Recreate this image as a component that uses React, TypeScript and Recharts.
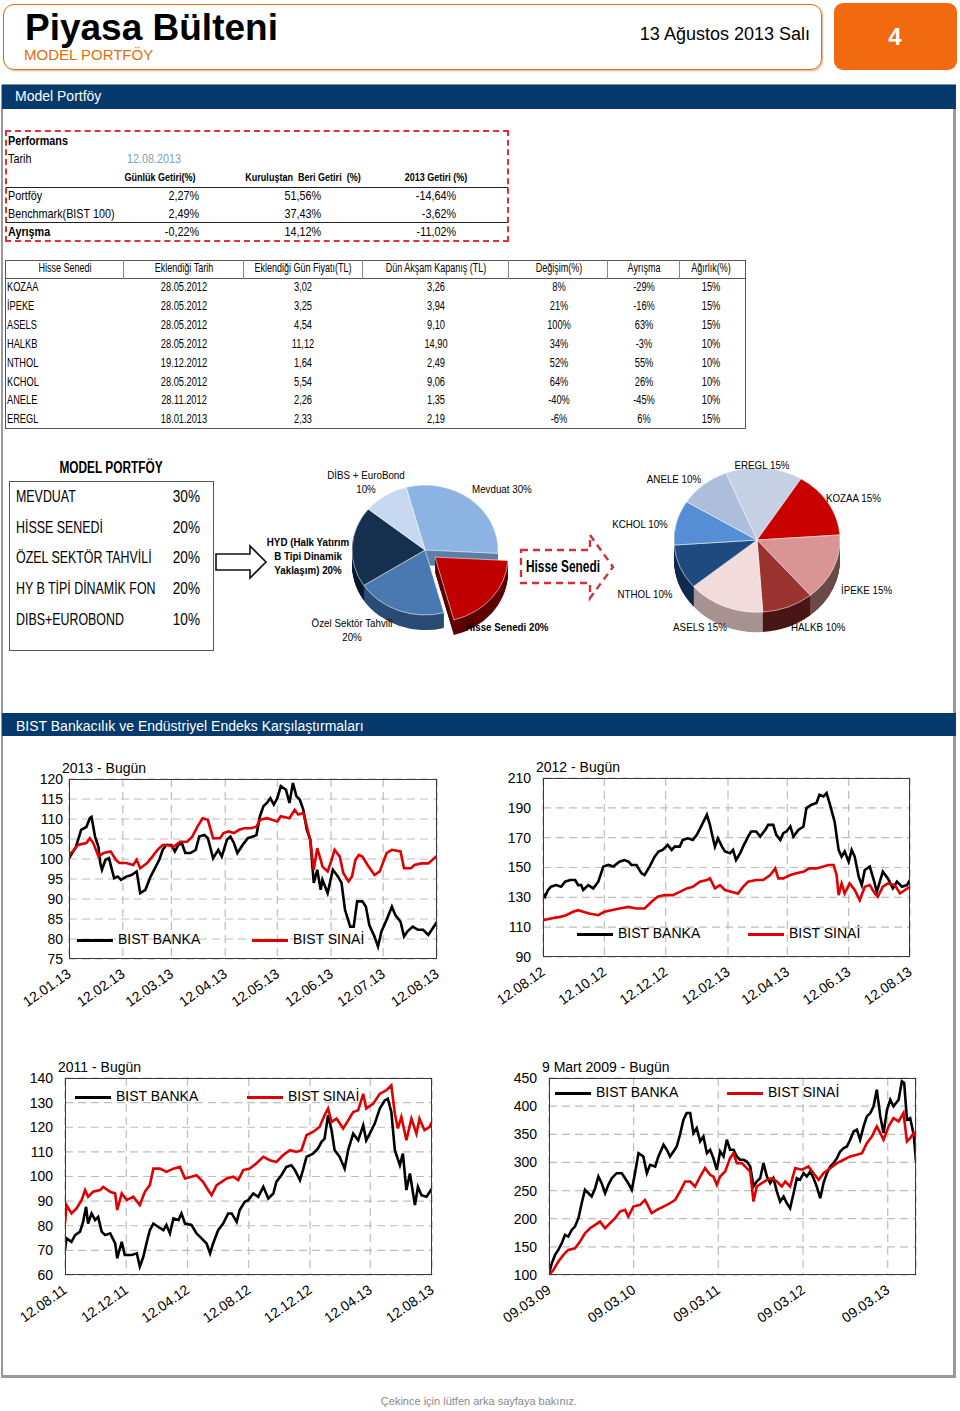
import React from 'react';
import { LineChart, Line, XAxis, YAxis, CartesianGrid, PieChart, Pie, Cell } from 'recharts';

const SANS = '"Liberation Sans", Arial, sans-serif';
const NARROW = '"Liberation Sans Narrow", "Liberation Sans", Arial, sans-serif';
const NAVY = '#063A6C';
const ORANGE = '#E46C0A';

// ---------- Performance table ----------
const perfCols = ['Günlük Getiri(%)', 'Kuruluştan  Beri Getiri  (%)', '2013 Getiri (%)'];
const perfRows = ['Portföy', 'Benchmark(BIST 100)', 'Ayrışma'];
const perfDaily = ['2,27%', '2,49%', '-0,22%'];
const perfSince = ['51,56%', '37,43%', '14,12%'];
const perfYear = ['-14,64%', '-3,62%', '-11,02%'];

// ---------- Holdings table ----------
const holdHeaders = ['Hisse Senedi', 'Eklendiği Tarih', 'Eklendiği Gün Fiyatı(TL)', 'Dün Akşam Kapanış (TL)', 'Değişim(%)', 'Ayrışma', 'Ağırlık(%)'];
const holdNames = ['KOZAA', 'İPEKE', 'ASELS', 'HALKB', 'NTHOL', 'KCHOL', 'ANELE', 'EREGL'];
const holdDates = ['28.05.2012', '28.05.2012', '28.05.2012', '28.05.2012', '19.12.2012', '28.05.2012', '28.11.2012', '18.01.2013'];
const holdEntry = ['3,02', '3,25', '4,54', '11,12', '1,64', '5,54', '2,26', '2,33'];
const holdClose = ['3,26', '3,94', '9,10', '14,90', '2,49', '9,06', '1,35', '2,19'];
const holdChange = ['8%', '21%', '100%', '34%', '52%', '64%', '-40%', '-6%'];
const holdDiverg = ['-29%', '-16%', '63%', '-3%', '55%', '26%', '-45%', '6%'];
const holdWeight = ['15%', '15%', '15%', '10%', '10%', '10%', '10%', '15%'];

// ---------- Model portfolio ----------
const modelNames = ['MEVDUAT', 'HİSSE SENEDİ', 'ÖZEL SEKTÖR TAHVİLİ', 'HY B TİPİ DİNAMİK FON', 'DIBS+EUROBOND'];
const modelPct = ['30%', '20%', '20%', '20%', '10%'];

const assetNames = ['Mevduat', 'Hisse Senedi', 'Özel Sektör Tahvili', 'HYD', 'DİBS + EuroBond'];
const assetValues = [30, 20, 20, 20, 10];
const assetColors = ['#8DB3E2', '#C00000', '#4A78B0', '#15304F', '#C6D9F1'];
const assetSides = ['#5B7FA8', '#5E0000', '#2A4B74', '#0A1A2E', '#8FA3BC'];

const stockNames = ['EREGL', 'KOZAA', 'İPEKE', 'HALKB', 'ASELS', 'NTHOL', 'KCHOL', 'ANELE'];
const stockValues = [15, 15, 15, 10, 15, 10, 10, 10];
const stockColors = ['#C6D0E4', '#C80000', '#D99594', '#9A3330', '#F2DCDB', '#1F4A80', '#558ED5', '#AEBDDB'];
const stockSides = ['#8B96AA', '#6E0000', '#6B4B4B', '#4A1616', '#A89292', '#0F2A4C', '#2C5288', '#6E7E9C'];

// ---------- Index charts ----------
type Pt = [number, number];

const ticks13 = [0, 31, 59, 90, 120, 151, 181, 212];
const labels13 = ['12.01.13', '12.02.13', '12.03.13', '12.04.13', '12.05.13', '12.06.13', '12.07.13', '12.08.13'];
const banka13: Pt[] = [[0,100.2],[4,103],[7,107.3],[10,108],[12,110.2],[13,110.5],[15,105.6],[17,103],[18,99],[19,97.3],[21,99.8],[23,100.2],[26,95.2],[28,95.6],[30,94.8],[33,95.6],[36,96],[39,96.9],[41,91.5],[44,92.3],[47,95.6],[50,98.1],[52,99.8],[54,102.3],[56,103.5],[59,103.5],[61,101.9],[63,103.5],[65,104],[67,101.5],[70,101.5],[73,102.3],[75,105.6],[78,106],[80,105.2],[83,100.2],[86,102.3],[88,100.6],[91,104.8],[93,105.6],[95,104],[97,101.5],[100,103.5],[103,105.2],[106,105.6],[108,106],[110,110.7],[112,113.2],[114,114],[116,115.2],[118,113.6],[120,115.2],[122,118.2],[125,117.3],[127,114],[129,119],[131,115.7],[133,114.8],[135,112.3],[137,107.3],[139,104.8],[141,94],[143,97.3],[145,92.3],[146,94.8],[149,91.5],[152,97.3],[155,95.6],[157,94],[159,87.3],[162,83.1],[164,83.1],[166,89.4],[169,89.4],[171,88.1],[173,83.5],[176,80.6],[178,78.1],[180,81.9],[183,84.8],[186,88.1],[188,86],[191,84.3],[193,80.6],[195,81.9],[198,83.1],[201,82.3],[204,82.3],[207,81],[212,84.3]];
const sinai13: Pt[] = [[0,101],[3,102.3],[5,103.5],[10,104],[12,105.2],[14,104],[17,100.6],[20,101.5],[24,101.9],[27,99.8],[29,99],[33,99],[37,98.5],[39,99.8],[41,97.7],[45,99],[48,100.6],[51,102.3],[54,103.5],[57,103.5],[60,103],[64,104.3],[68,104.3],[71,105.6],[74,108.1],[77,110.2],[80,109.8],[83,105.2],[87,105.2],[89,106.5],[92,106.9],[95,106.5],[98,107.3],[101,107.7],[105,107.7],[108,108.1],[110,109.8],[114,110.2],[117,109.8],[120,109.4],[122,110.7],[127,110.2],[130,112.3],[132,111.1],[135,111.5],[137,108.1],[139,104.8],[141,97.3],[143,102.7],[145,99.8],[146,98.1],[149,96.9],[151,99.4],[153,102.3],[156,100.6],[158,96.5],[161,94.4],[163,95.6],[165,99.8],[167,101],[169,100.6],[172,98.5],[176,96],[179,96.9],[183,101.5],[186,102.3],[191,101.9],[193,97.7],[197,97.7],[199,98.5],[203,98.9],[207,98.9],[212,100.8]];

const ticks12 = [0, 61, 122, 184, 243, 304, 365];
const labels12 = ['12.08.12', '12.10.12', '12.12.12', '12.02.13', '12.04.13', '12.06.13', '12.08.13'];
const banka12: Pt[] = [[0,132.6],[2,130.4],[5,134.9],[8,137.1],[13,138.2],[18,137.1],[22,140.5],[27,141.6],[32,141.6],[35,138.2],[38,138.2],[40,134.9],[45,138.2],[50,136],[55,140.5],[60,150.6],[65,151.7],[70,150.6],[76,153.9],[81,155],[85,153.9],[88,151.7],[93,151.7],[98,146.1],[101,145],[106,150.6],[111,157.3],[115,160.7],[119,161.8],[124,165.1],[128,161.8],[131,164],[136,164],[139,168.5],[144,169.6],[149,168.5],[153,171.9],[158,178.6],[163,185.3],[166,178.6],[169,169.6],[171,164],[174,169.6],[178,164],[181,160.7],[186,159.5],[189,161.8],[192,155],[196,159.5],[199,164],[204,170.7],[207,174.1],[212,174.1],[216,170.7],[221,175.2],[224,178.6],[229,178.6],[232,171.9],[236,168.5],[239,173],[242,174.1],[246,177.5],[249,170.7],[254,175.2],[259,177.5],[262,189.8],[267,192.1],[272,193.2],[275,198.8],[279,197.7],[282,199.9],[285,193.2],[290,180.8],[294,161.8],[297,157.3],[300,160.7],[304,153.9],[307,161.8],[310,157.3],[314,143.8],[317,138.2],[320,148.3],[325,150.6],[329,141.6],[332,133.7],[335,140.5],[338,147.2],[343,142.7],[348,136],[352,140.5],[357,137.1],[362,138.2],[365,141.6]];
const sinai12: Pt[] = [[0,114.7],[8,115.8],[17,116.9],[23,118],[30,120.3],[35,121.4],[40,120.3],[46,119.2],[55,118],[61,120.3],[68,121.4],[76,122.5],[85,123.6],[93,122.5],[101,122.5],[108,127],[114,130.4],[121,131.5],[129,131.5],[136,133.7],[143,136],[149,137.1],[156,140.5],[163,141.6],[166,142.7],[171,136],[176,138.2],[181,134.9],[187,133.7],[194,132.6],[199,137.1],[204,140.5],[212,141.6],[219,141.6],[226,145],[231,149.4],[234,142.7],[239,142.7],[246,145],[252,146.1],[259,147.2],[265,149.4],[272,149.4],[279,150.6],[284,151.7],[289,151.7],[292,145],[294,131.5],[297,139.3],[300,132.6],[305,139.3],[310,134.9],[315,128.1],[320,137.1],[325,138.2],[330,132.6],[333,130.4],[338,137.1],[343,139.3],[350,138.2],[355,132.6],[360,134.9],[365,137.1]];

const ticks11 = [0, 122, 244, 366, 488, 608, 731];
const labels11 = ['12.08.11', '12.12.11', '12.04.12', '12.08.12', '12.12.12', '12.04.13', '12.08.13'];
const banka11: Pt[] = [[0,70.1],[3,74.9],[13,73.5],[20,76.2],[30,77.6],[36,81.6],[42,87.7],[46,80.9],[53,85],[60,82.3],[66,83.6],[73,77.6],[80,76.2],[90,76.9],[100,72.8],[104,66.8],[113,73.5],[119,68.1],[133,68.1],[143,68.8],[149,63.4],[156,67.4],[163,73.5],[169,78.2],[176,80.9],[186,79.5],[196,78.2],[202,80.3],[209,76.9],[216,83],[226,82.3],[232,85],[239,80.9],[252,80.3],[262,76.9],[272,74.9],[282,72.8],[289,68.8],[295,72.8],[305,78.2],[315,80.9],[325,85],[332,85],[342,81.6],[348,86.4],[358,89.7],[365,90.4],[375,93.1],[385,91.7],[395,95.8],[405,91.1],[415,93.1],[421,97.8],[431,100.5],[441,103.9],[451,104.6],[458,102.6],[468,98.5],[474,102.6],[481,108],[494,109.3],[504,111.4],[511,114.1],[517,115.4],[524,124.9],[531,118.8],[537,110.7],[547,108],[557,103.2],[564,110.7],[574,117.4],[584,114.7],[594,120.8],[600,114.7],[607,117.4],[617,121.5],[627,127.6],[637,130.9],[643,131.6],[650,126.2],[657,110.7],[667,104.6],[673,109.3],[680,94.5],[687,101.2],[697,88.4],[703,95.8],[710,92.4],[720,91.8],[731,95.1]];
const sinai11: Pt[] = [[0,80.9],[3,88.4],[13,85],[23,87],[33,90.4],[40,94.5],[46,91.8],[56,93.8],[70,94.5],[76,95.8],[90,93.8],[100,93.1],[104,86.4],[113,93.1],[123,90.4],[136,91.8],[149,88.4],[159,93.8],[169,96.5],[176,103.2],[189,103.2],[202,101.9],[216,103.2],[229,103.9],[239,99.2],[252,99.9],[262,100.5],[275,97.8],[285,94.5],[292,92.4],[302,96.5],[312,97.8],[322,99.2],[335,99.9],[345,98.5],[355,102.6],[368,103.2],[381,105.3],[395,108],[408,106.6],[421,105.9],[434,108.6],[448,110.7],[461,110],[471,110.7],[481,116.8],[494,118.1],[507,120.1],[517,124.9],[524,127.6],[531,122.2],[541,123.5],[554,119.5],[564,122.8],[574,126.2],[584,126.9],[594,133.6],[600,127.6],[614,129.6],[627,133.6],[640,135],[650,137],[657,125.5],[663,119.5],[670,124.2],[680,114.7],[690,123.5],[700,117.4],[706,123.5],[716,118.8],[726,120.1],[731,122.2]];

const ticks09 = [0, 365, 730, 1096, 1461];
const labels09 = ['09.03.09', '09.03.10', '09.03.11', '09.03.12', '09.03.13'];
const banka09: Pt[] = [[0,103],[12,120.8],[26,135.6],[40,144.5],[55,156.4],[69,171.2],[83,168.2],[98,180.1],[112,186],[127,200.9],[141,227.5],[155,251.3],[170,245.3],[184,239.4],[199,254.2],[213,275],[227,263.1],[242,245.3],[256,260.2],[271,272],[292,280.9],[314,280.9],[328,272],[342,263.1],[357,251.3],[371,280.9],[386,316.5],[407,310.6],[422,280.9],[436,295.8],[458,292.8],[472,310.6],[494,331.4],[508,322.5],[522,310.6],[537,319.5],[551,328.4],[565,349.2],[580,375.8],[594,387.7],[609,387.7],[623,352.1],[637,361],[652,337.3],[666,346.2],[681,316.5],[695,322.5],[709,307.6],[724,286.9],[738,319.5],[753,310.6],[767,340.3],[781,322.5],[796,322.5],[810,310.6],[824,304.7],[839,304.7],[853,301.7],[868,292.8],[882,257.2],[896,266.1],[911,272],[925,298.7],[940,275],[954,263.1],[968,272],[983,248.3],[997,230.5],[1012,239.4],[1026,227.5],[1040,218.6],[1055,245.3],[1069,272],[1083,269.1],[1098,280.9],[1112,275],[1127,283.9],[1141,272],[1155,257.2],[1170,236.4],[1184,263.1],[1199,280.9],[1213,292.8],[1227,298.7],[1242,307.6],[1256,319.5],[1271,325.4],[1285,328.4],[1299,340.3],[1314,355.1],[1328,358.1],[1342,340.3],[1357,364],[1371,381.8],[1386,387.7],[1400,399.6],[1414,429.2],[1429,381.8],[1443,352.1],[1458,393.7],[1472,411.4],[1486,399.6],[1508,411.4],[1522,444.1],[1532,441.1],[1544,375.8],[1558,378.8],[1573,349.2],[1583,301.7]];
const sinai09: Pt[] = [[0,100],[19,108.9],[40,123.7],[62,135.6],[83,144.5],[112,147.5],[134,159.3],[155,174.2],[177,183.1],[199,189],[220,194.9],[242,183.1],[263,192],[285,200.9],[306,212.7],[328,215.7],[342,203.8],[364,221.6],[393,224.6],[414,233.5],[429,221.6],[443,209.8],[465,215.7],[494,221.6],[522,227.5],[544,233.5],[565,248.3],[587,266.1],[609,266.1],[630,257.2],[652,275],[673,289.8],[695,278],[709,275],[724,260.2],[738,275],[760,283.9],[781,307.6],[796,316.5],[810,298.7],[832,298.7],[853,289.8],[868,283.9],[882,230.5],[896,257.2],[918,263.1],[940,269.1],[961,272],[983,266.1],[1004,257.2],[1019,266.1],[1040,257.2],[1062,289.8],[1091,287],[1119,292.8],[1141,280.9],[1163,269.1],[1184,280.9],[1213,289.8],[1242,298.7],[1271,304.7],[1299,310.6],[1328,313.5],[1350,316.5],[1371,334.3],[1393,346.2],[1414,364],[1429,352.1],[1443,340.3],[1465,364],[1486,378.8],[1508,372.9],[1529,387.7],[1544,337.3],[1558,343.2],[1573,352.1],[1583,346.2]];

const seriesNames = ['BIST BANKA', 'BIST SINAİ'];

// ---------- helpers ----------
type TProps = { x: number; y: number; children: React.ReactNode; size?: number; anchor?: 'start' | 'middle' | 'end'; bold?: boolean; color?: string; font?: string; sx?: number; style?: React.CSSProperties };
function T({ x, y, children, size = 12, anchor = 'start', bold = false, color = '#000', font = SANS, sx, style }: TProps) {
  const tx = anchor === 'start' ? '0' : anchor === 'middle' ? '-50%' : '-100%';
  const scale = sx !== undefined ? sx : font === NARROW ? 0.83 : 1;
  const origin = anchor === 'start' ? 'left center' : anchor === 'middle' ? 'center center' : 'right center';
  return (
    <div style={{ position: 'absolute', left: x, top: y, transform: `translate(${tx}, -50%) scaleX(${scale})`, transformOrigin: origin, whiteSpace: 'pre', lineHeight: 1.1, fontSize: size, fontWeight: bold ? 700 : 400, color, fontFamily: font, ...style }}>
      {children}
    </div>
  );
}

type Pie3DProps = { left: number; top: number; w: number; h: number; cx: number; cy: number; r: number; depth: number; scale: number; startAngle: number; values: number[]; colors: string[]; sides: string[]; explode?: number; edx?: number; edy?: number };
function Pie3D({ left, top, w, h, cx, cy, r, depth, scale, startAngle, values, colors, sides, explode = -1, edx = 0, edy = 0 }: Pie3DProps) {
  const data = values.map((v, i) => ({ name: 'p' + i, value: v }));
  const layers: number[] = [];
  for (let d = depth; d >= 1; d--) layers.push(d);
  const pies: React.ReactNode[] = [];
  const mk = (key: string, ox: number, oy: number, fillFn: (i: number) => string, stroke: string) => (
    <Pie key={key} data={data} dataKey="value" cx={ox} cy={oy} outerRadius={r} startAngle={startAngle} endAngle={startAngle - 360} isAnimationActive={false} label={false} labelLine={false}>
      {data.map((_, i) => <Cell key={i} fill={fillFn(i)} stroke={fillFn(i) === 'transparent' ? 'none' : stroke} strokeWidth={0.6} />)}
    </Pie>
  );
  layers.forEach(d => pies.push(mk('s' + d, cx, cy + d, i => (i === explode ? 'transparent' : sides[i]), 'transparent')));
  pies.push(mk('top', cx, cy, i => (i === explode ? 'transparent' : colors[i]), '#ffffff'));
  if (explode >= 0) {
    layers.forEach(d => pies.push(mk('es' + d, cx + edx, cy + edy + d, i => (i === explode ? sides[i] : 'transparent'), 'transparent')));
    pies.push(mk('etop', cx + edx, cy + edy, i => (i === explode ? colors[i] : 'transparent'), '#ffffff'));
  }
  return (
    <div style={{ position: 'absolute', left, top, width: w, height: h, transform: `scaleY(${scale})`, transformOrigin: `${cx}px ${cy}px` }}>
      <PieChart width={w} height={h} margin={{ top: 0, right: 0, bottom: 0, left: 0 }}>
        {pies}
      </PieChart>
    </div>
  );
}

type ChartProps = { plot: { x: number; y: number; w: number; h: number }; yDomain: [number, number]; yTicks: number[]; yGap: number; xEnd: number; xTicks: number[]; xLabels: string[]; banka: Pt[]; sinai: Pt[]; title: string; legendY: number; legendX: [number, number] };
function IndexChart({ plot, yDomain, yTicks, yGap, xEnd, xTicks, xLabels, banka, sinai, title, legendY, legendX }: ChartProps) {
  const YW = 60, MT = 14, MR = 40, XH = 80;
  const W = plot.w + YW + MR, H = plot.h + MT + XH;
  const rows = (pts: Pt[]) => pts.map(([t, v]) => ({ t, v }));
  const XTick = (p: any) => {
    const { x, y, payload } = p;
    const idx = xTicks.indexOf(payload.value);
    const ex = x + 3, ey = y + 9;
    return (
      <text x={ex} y={ey} transform={`rotate(-35 ${ex} ${ey})`} textAnchor="end" fontSize={14} fontFamily={SANS} fill="#000">
        {idx >= 0 ? xLabels[idx] : ''}
      </text>
    );
  };
  return (
    <>
      <T x={plot.x - 7} y={plot.y - 10} size={14}>{title}</T>
      <div style={{ position: 'absolute', left: plot.x - YW, top: plot.y - MT }}>
        <LineChart width={W} height={H} margin={{ top: MT, right: MR, bottom: 0, left: 0 }}>
          <CartesianGrid stroke="#BDBDBD" strokeWidth={1.2} strokeDasharray="8 5" />
          <XAxis type="number" dataKey="t" domain={[0, xEnd]} ticks={xTicks} interval={0} allowDataOverflow axisLine={false} tickLine={false} height={XH} tick={XTick} />
          <YAxis type="number" domain={yDomain} ticks={yTicks} interval={0} allowDataOverflow axisLine={false} tickLine={false} tickSize={yGap} tickMargin={0} width={YW} tick={{ fontSize: 14, fontFamily: SANS, fill: '#000' }} />
          <Line data={rows(banka)} dataKey="v" type="linear" stroke="#000000" strokeWidth={2.6} dot={false} isAnimationActive={false} />
          <Line data={rows(sinai)} dataKey="v" type="linear" stroke="#E00000" strokeWidth={2.6} dot={false} isAnimationActive={false} />
        </LineChart>
      </div>
      <div style={{ position: 'absolute', left: plot.x, top: plot.y, width: plot.w, height: plot.h, border: '1.5px solid #3A3A3A', boxSizing: 'border-box', pointerEvents: 'none' }} />
      {seriesNames.map((n, i) => (
        <React.Fragment key={n}>
          <div style={{ position: 'absolute', left: legendX[i], top: legendY - 1.5, width: 36, height: 3, background: i === 0 ? '#000' : '#E00000' }} />
          <T x={legendX[i] + 41} y={legendY} size={14}>{n}</T>
        </React.Fragment>
      ))}
    </>
  );
}

// ---------- App ----------
export default function App() {
  const holdCols = [holdNames, holdDates, holdEntry, holdClose, holdChange, holdDiverg, holdWeight];
  const holdCenters = [65, 184, 303, 436, 559, 644, 711];
  const holdSeps = [123, 243, 362, 508, 607, 679];
  const perfVals = [perfDaily, perfSince, perfYear];
  const perfRight = [199, 321, 456];
  const perfHeadX = [160, 303, 436];
  const perfRowY = [196, 214, 232];
  const pieLbl = 0.85;

  return (
    <div style={{ position: 'absolute', left: 0, top: 0, width: 960, height: 1411, background: '#fff', overflow: 'hidden', fontFamily: SANS }}>
      {/* Header */}
      <div style={{ position: 'absolute', left: 3, top: 4, width: 819, height: 66, border: `1.5px solid ${ORANGE}`, borderRadius: 11, boxSizing: 'border-box', boxShadow: '1px 1px 2px #d8b090' }} />
      <T x={25} y={28} size={37} bold>Piyasa Bülteni</T>
      <T x={24} y={55} size={15} color={ORANGE}>MODEL PORTFÖY</T>
      <T x={810} y={35} size={18} anchor="end">13 Ağustos 2013 Salı</T>
      <div style={{ position: 'absolute', left: 834, top: 3, width: 123, height: 67, background: '#F26A10', borderRadius: 9 }} />
      <T x={895} y={37} size={24} bold color="#fff" anchor="middle">4</T>

      {/* Frame */}
      <div style={{ position: 'absolute', left: 1, top: 85, width: 955, height: 1293, borderLeft: '2px solid #9A9A9A', borderRight: '3px solid #9A9A9A', borderBottom: '3px solid #9A9A9A', boxSizing: 'border-box' }} />
      <div style={{ position: 'absolute', left: 2, top: 84, width: 954, height: 24, background: NAVY, borderTop: '1px solid #7f93a8' }} />
      <T x={15} y={97} size={14} color="#fff">Model Portföy</T>

      {/* Performance table */}
      <div style={{ position: 'absolute', left: 5, top: 130, width: 504, height: 112, border: '2px dashed #E0303A', boxSizing: 'border-box' }} />
      <T x={8} y={141} size={13} bold font={NARROW}>Performans</T>
      <T x={8} y={159} size={13} font={NARROW}>Tarih</T>
      <T x={127} y={159} size={13} color="#7F9CBA" font={NARROW}>12.08.2013</T>
      {perfCols.map((c, i) => <T key={c} x={perfHeadX[i]} y={178} size={10.5} bold anchor="middle" font={NARROW} sx={0.86}>{c}</T>)}
      <div style={{ position: 'absolute', left: 6, top: 187, width: 502, height: 1, background: '#222' }} />
      <div style={{ position: 'absolute', left: 6, top: 222, width: 502, height: 1, background: '#222' }} />
      {perfRows.map((r, ri) => (
        <React.Fragment key={r}>
          <T x={8} y={perfRowY[ri]} size={13} bold={ri === 2} font={NARROW}>{r}</T>
          {perfVals.map((col, ci) => <T key={ci} x={perfRight[ci]} y={perfRowY[ri]} size={13} anchor="end" font={NARROW}>{col[ri]}</T>)}
        </React.Fragment>
      ))}

      {/* Holdings table */}
      <div style={{ position: 'absolute', left: 5, top: 260, width: 741, height: 169, border: '1px solid #555', boxSizing: 'border-box' }} />
      <div style={{ position: 'absolute', left: 5, top: 278, width: 741, height: 1, background: '#555' }} />
      {holdSeps.map(x => <div key={x} style={{ position: 'absolute', left: x, top: 260, width: 1, height: 19, background: '#888' }} />)}
      {holdHeaders.map((h, i) => <T key={h} x={holdCenters[i]} y={269} size={12} anchor="middle" font={NARROW} sx={0.75}>{h}</T>)}
      {holdNames.map((_, ri) => (
        <React.Fragment key={ri}>
          {holdCols.map((col, ci) => (
            <T key={ci} x={ci === 0 ? 7 : holdCenters[ci]} y={288 + ri * 18.9} size={12.5} anchor={ci === 0 ? 'start' : 'middle'} font={NARROW} sx={0.74}>{col[ri]}</T>
          ))}
        </React.Fragment>
      ))}

      {/* Model portfolio box */}
      <T x={111} y={468} size={16} bold anchor="middle" font={NARROW} sx={0.74}>MODEL PORTFÖY</T>
      <div style={{ position: 'absolute', left: 9, top: 481, width: 205, height: 170, border: '1.5px solid #555', boxSizing: 'border-box' }} />
      {modelNames.map((n, i) => (
        <React.Fragment key={n}>
          <T x={16} y={497 + i * 30.7} size={17} font={NARROW} sx={0.73}>{n}</T>
          <T x={200} y={497 + i * 30.7} size={17} anchor="end" font={NARROW} sx={0.8}>{modelPct[i]}</T>
        </React.Fragment>
      ))}
      <svg style={{ position: 'absolute', left: 210, top: 540 }} width={60} height={45}>
        <polygon points="6,14 40,14 40,6 56,22 40,38 40,30 6,30" fill="#fff" stroke="#111" strokeWidth={1.6} />
      </svg>

      {/* Pie 1 */}
      <Pie3D left={325} top={450} w={200} h={230} cx={100} cy={100} r={73} depth={17} scale={0.89} startAngle={105}
        values={assetValues} colors={assetColors} sides={assetSides} explode={1} edx={10} edy={8} />
      <T x={366} y={475} size={11.5} anchor="middle" sx={pieLbl}>DİBS + EuroBond</T>
      <T x={366} y={489} size={11.5} anchor="middle" sx={pieLbl}>10%</T>
      <T x={472} y={489} size={11.5} sx={pieLbl}>Mevduat 30%</T>
      <T x={308} y={542} size={11.5} bold anchor="middle" sx={pieLbl}>HYD (Halk Yatırım</T>
      <T x={308} y={556} size={11.5} bold anchor="middle" sx={pieLbl}>B Tipi Dinamik</T>
      <T x={308} y={570} size={11.5} bold anchor="middle" sx={pieLbl}>Yaklaşım) 20%</T>
      <T x={352} y={623} size={11.5} anchor="middle" sx={pieLbl}>Özel Sektör Tahvili</T>
      <T x={352} y={637} size={11.5} anchor="middle" sx={pieLbl}>20%</T>
      <T x={507} y={627} size={11.5} bold anchor="middle" sx={pieLbl}>Hisse Senedi 20%</T>

      {/* Hisse Senedi dashed arrow */}
      <svg style={{ position: 'absolute', left: 515, top: 530 }} width={105} height={75}>
        <polygon points="6,20 75,20 75,5 98,37 75,68 75,53 6,53" fill="none" stroke="#D0303A" strokeWidth={2.4} strokeDasharray="7 5" />
      </svg>
      <T x={563} y={567} size={17} bold anchor="middle" font={NARROW} sx={0.7}>Hisse Senedi</T>

      {/* Pie 2 */}
      <Pie3D left={657} top={440} w={200} h={240} cx={100} cy={100} r={83} depth={23} scale={0.87} startAngle={112}
        values={stockValues} colors={stockColors} sides={stockSides} />
      {[
        ['EREGL 15%', 762, 465, 'middle'], ['ANELE 10%', 674, 479, 'middle'], ['KOZAA 15%', 826, 498, 'start'], ['KCHOL 10%', 640, 524, 'middle'],
        ['İPEKE 15%', 841, 590, 'start'], ['NTHOL 10%', 645, 594, 'middle'], ['ASELS 15%', 700, 627, 'middle'], ['HALKB 10%', 791, 627, 'start'],
      ].map(([txt, x, y, a]) => <T key={txt as string} x={x as number} y={y as number} size={11.5} anchor={a as any} sx={pieLbl}>{txt}</T>)}

      {/* Section bar 2 */}
      <div style={{ position: 'absolute', left: 2, top: 713, width: 954, height: 23, background: NAVY }} />
      <T x={16} y={727} size={14} color="#fff">BIST Bankacılık ve Endüstriyel Endeks Karşılaştırmaları</T>

      <IndexChart plot={{ x: 69, y: 779, w: 368, h: 180 }} yDomain={[75, 120]} yTicks={[75, 80, 85, 90, 95, 100, 105, 110, 115, 120]} yGap={6}
        xEnd={212} xTicks={ticks13} xLabels={labels13} banka={banka13} sinai={sinai13} title="2013 - Bugün" legendY={940} legendX={[77, 252]} />
      <IndexChart plot={{ x: 543, y: 778, w: 367, h: 179 }} yDomain={[90, 210]} yTicks={[90, 110, 130, 150, 170, 190, 210]} yGap={12}
        xEnd={365} xTicks={ticks12} xLabels={labels12} banka={banka12} sinai={sinai12} title="2012 - Bugün" legendY={934} legendX={[577, 748]} />
      <IndexChart plot={{ x: 65, y: 1078, w: 367, h: 197 }} yDomain={[60, 140]} yTicks={[60, 70, 80, 90, 100, 110, 120, 130, 140]} yGap={12}
        xEnd={731} xTicks={ticks11} xLabels={labels11} banka={banka11} sinai={sinai11} title="2011 - Bugün" legendY={1097} legendX={[75, 247]} />
      <IndexChart plot={{ x: 549, y: 1078, w: 367, h: 197 }} yDomain={[100, 450]} yTicks={[100, 150, 200, 250, 300, 350, 400, 450]} yGap={12}
        xEnd={1583} xTicks={ticks09} xLabels={labels09} banka={banka09} sinai={sinai09} title="9 Mart 2009 - Bugün" legendY={1093} legendX={[555, 727]} />

      <T x={479} y={1401} size={11} anchor="middle" color="#8a8a8a" sx={1}>Çekince için lütfen arka sayfaya bakınız.</T>
    </div>
  );
}
